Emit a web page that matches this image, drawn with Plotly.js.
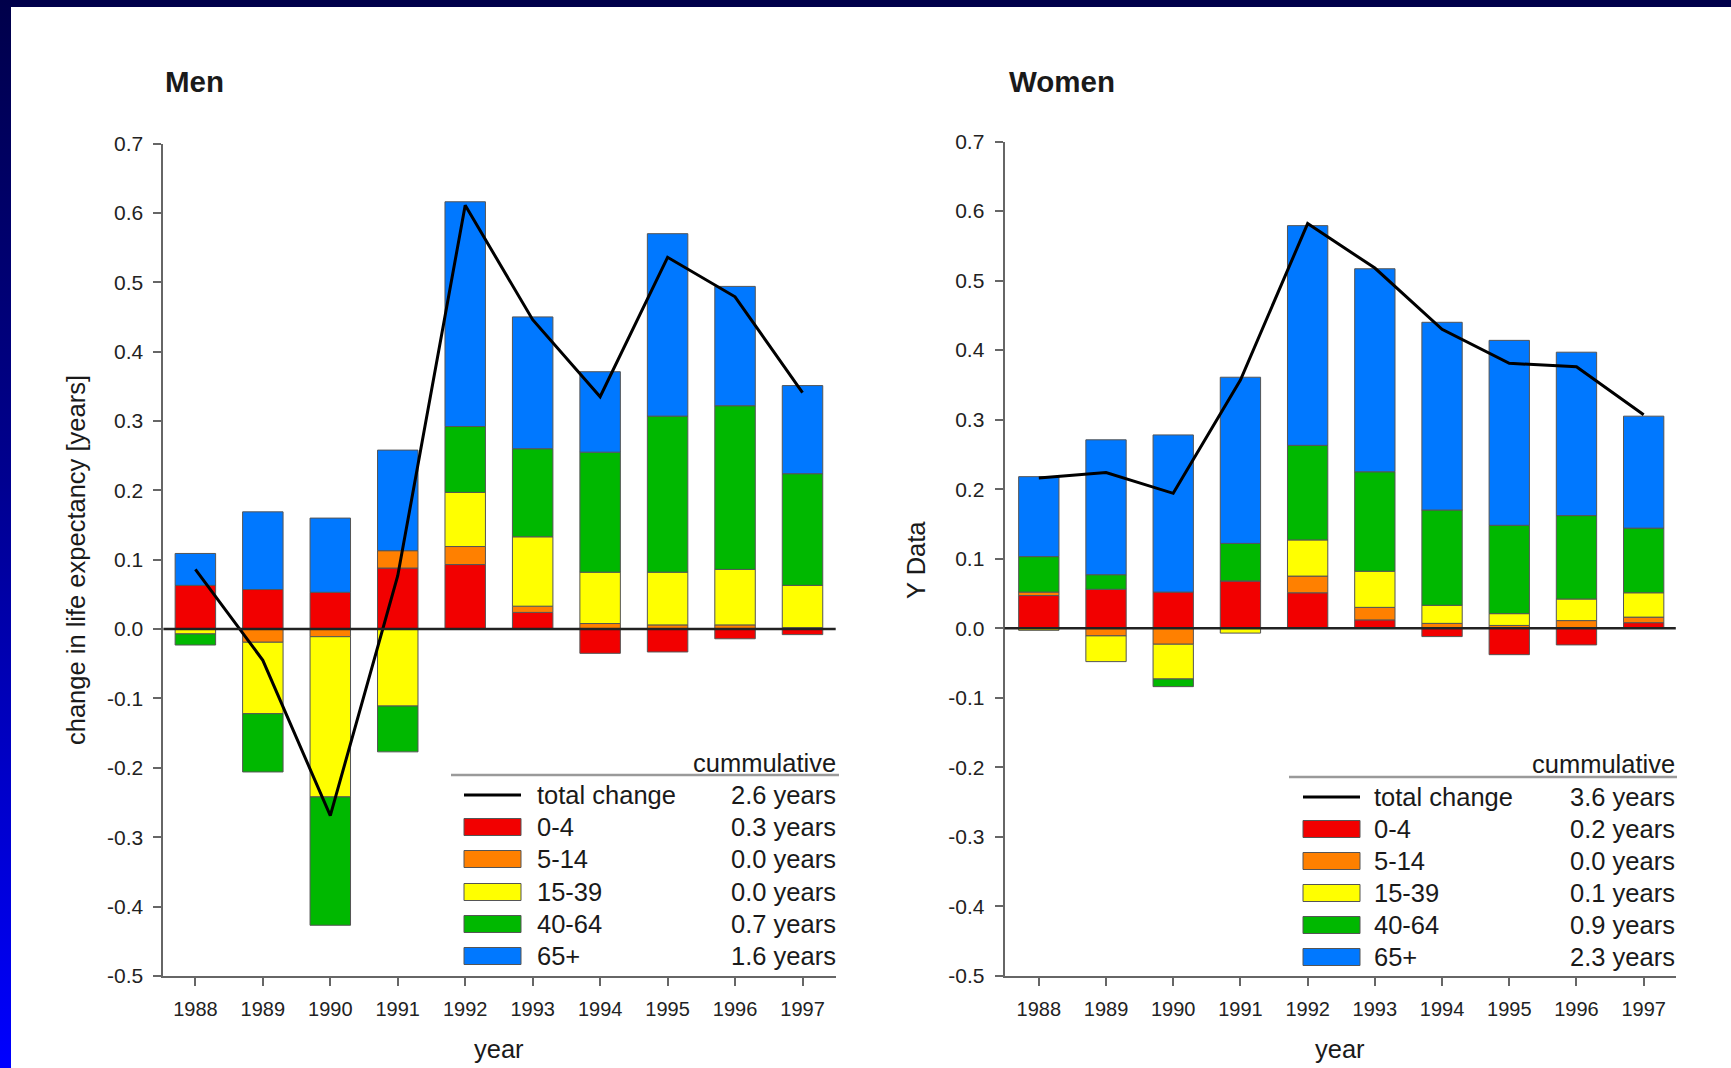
<!DOCTYPE html>
<html>
<head>
<meta charset="utf-8">
<script src="https://cdn.plot.ly/plotly-3.0.1.min.js"></script>
<style>
  html, body { margin: 0; padding: 0; }
  body { width: 1731px; height: 1068px; overflow: hidden;
         background: linear-gradient(to bottom, #00004a 0%, #000090 45%, #0000ff 100%); }
  #chart { width: 1731px; height: 1068px; }
</style>
</head>
<body>
<div id="chart"></div>
<script>
// ---------------- DATA ----------------
const years = [1988, 1989, 1990, 1991, 1992, 1993, 1994, 1995, 1996, 1997];
const ageGroups = ['0-4', '5-14', '15-39', '40-64', '65+'];

const men0to4    = [0.063, 0.057, 0.053, 0.088, 0.093, 0.024, -0.035, -0.033, -0.014, -0.008];
const men5to14   = [0.000, -0.019, -0.011, 0.025, 0.026, 0.009, 0.008, 0.006, 0.006, 0.002];
const men15to39  = [-0.007, -0.103, -0.231, -0.111, 0.078, 0.100, 0.074, 0.076, 0.080, 0.061];
const men40to64  = [-0.016, -0.084, -0.185, -0.066, 0.095, 0.127, 0.173, 0.225, 0.236, 0.161];
const men65plus  = [0.046, 0.112, 0.107, 0.145, 0.324, 0.190, 0.116, 0.263, 0.172, 0.127];
const menTotal   = [0.086, -0.045, -0.269, 0.077, 0.611, 0.446, 0.335, 0.536, 0.479, 0.341];

const women0to4   = [0.047, 0.056, 0.052, 0.068, 0.051, 0.012, -0.012, -0.038, -0.024, 0.008];
const women5to14  = [0.005, -0.011, -0.023, 0.000, 0.024, 0.018, 0.007, 0.004, 0.011, 0.008];
const women15to39 = [-0.003, -0.037, -0.050, -0.007, 0.052, 0.052, 0.026, 0.017, 0.031, 0.035];
const women40to64 = [0.051, 0.021, -0.011, 0.054, 0.136, 0.143, 0.137, 0.127, 0.120, 0.093];
const women65plus = [0.115, 0.194, 0.226, 0.239, 0.316, 0.292, 0.270, 0.266, 0.235, 0.161];
const womenTotal  = [0.216, 0.224, 0.194, 0.357, 0.582, 0.518, 0.430, 0.381, 0.376, 0.307];

const legendLabels = ['total change', '0-4', '5-14', '15-39', '40-64', '65+'];
const menCumulative   = ['2.6 years', '0.3 years', '0.0 years', '0.0 years', '0.7 years', '1.6 years'];
const womenCumulative = ['3.6 years', '0.2 years', '0.0 years', '0.1 years', '0.9 years', '2.3 years'];

const yTickVals = [-0.5, -0.4, -0.3, -0.2, -0.1, 0.0, 0.1, 0.2, 0.3, 0.4, 0.5, 0.6, 0.7];
const yTickText = ['-0.5', '-0.4', '-0.3', '-0.2', '-0.1', '0.0', '0.1', '0.2', '0.3', '0.4', '0.5', '0.6', '0.7'];

// ---------------- STYLE ----------------
const W = 1731, H = 1068;
const colors = ['#f20000', '#ff8000', '#ffff00', '#00b800', '#0078ff'];
const FONT = 'Liberation Sans, Arial, sans-serif';
const TXT = 25.5;
const px = x => x / W;
const py = y => 1 - y / H;

const menSeries = [men0to4, men5to14, men15to39, men40to64, men65plus];
const womenSeries = [women0to4, women5to14, women15to39, women40to64, women65plus];

const traces = [];
function addPanel(series, total, xa, ya) {
  series.forEach((vals, i) => {
    traces.push({
      type: 'bar', x: years, y: vals, name: ageGroups[i],
      xaxis: xa, yaxis: ya, width: 0.6,
      marker: { color: colors[i], line: { color: '#555', width: 1 } },
      showlegend: false, hoverinfo: 'x+y+name'
    });
  });
  traces.push({
    type: 'scatter', mode: 'lines', x: years, y: total, name: 'total change',
    xaxis: xa, yaxis: ya, line: { color: '#000', width: 3 }, showlegend: false
  });
}
addPanel(menSeries, menTotal, 'x', 'y');
addPanel(womenSeries, womenTotal, 'x2', 'y2');

function xAxis(d0, d1, r0, r1, anchor) {
  return {
    domain: [px(d0), px(d1)], range: [r0, r1], anchor: anchor,
    tickvals: years, ticktext: years.map(String),
    ticks: 'outside', ticklen: 8, tickwidth: 2, tickcolor: '#666',
    showline: true, linecolor: '#666', linewidth: 2,
    showgrid: false, zeroline: false, ticklabelstandoff: 6,
    tickfont: { family: FONT, size: 20, color: '#222' }, fixedrange: true
  };
}
function yAxis(t, b, anchor) {
  return {
    domain: [py(b), py(t)], range: [-0.5, 0.7], anchor: anchor,
    tickvals: yTickVals, ticktext: yTickText,
    ticks: 'outside', ticklen: 8, tickwidth: 2, tickcolor: '#666',
    showline: true, linecolor: '#666', linewidth: 2,
    showgrid: false, zeroline: false, ticklabelstandoff: 6,
    tickfont: { family: FONT, size: 21, color: '#222' }, fixedrange: true
  };
}

const shapes = [
  { type: 'rect', xref: 'paper', yref: 'paper', x0: px(11), x1: 1, y0: 0, y1: py(7),
    fillcolor: '#ffffff', line: { width: 0 }, layer: 'below' },
  { type: 'line', xref: 'x domain', yref: 'y', x0: 0, x1: 1, y0: 0, y1: 0,
    line: { color: '#222', width: 2.5 } },
  { type: 'line', xref: 'x2 domain', yref: 'y2', x0: 0, x1: 1, y0: 0, y1: 0,
    line: { color: '#222', width: 2.5 } }
];
const annotations = [];
function txt(text, x, y, xanchor, size, opts) {
  annotations.push(Object.assign({
    text: text, xref: 'paper', yref: 'paper', x: px(x), y: py(y),
    xanchor: xanchor, yanchor: 'middle', showarrow: false,
    font: { family: FONT, size: size, color: '#1a1a1a' }
  }, opts || {}));
}

function legendTable(lx0, lx1, headerY, lineY, rowYs, sw0, sw1, labelX, valueX, values) {
  txt('cummulative', valueX, headerY, 'right', TXT);
  shapes.push({ type: 'line', xref: 'paper', yref: 'paper', x0: px(lx0), x1: px(lx1),
    y0: py(lineY), y1: py(lineY), line: { color: '#9a9a9a', width: 2.5 } });
  rowYs.forEach((ry, i) => {
    if (i === 0) {
      shapes.push({ type: 'line', xref: 'paper', yref: 'paper', x0: px(sw0), x1: px(sw1),
        y0: py(ry), y1: py(ry), line: { color: '#000', width: 3 } });
    } else {
      shapes.push({ type: 'rect', xref: 'paper', yref: 'paper', x0: px(sw0), x1: px(sw1),
        y0: py(ry + 8.5), y1: py(ry - 8.5), fillcolor: colors[i - 1],
        line: { color: '#555', width: 1 } });
    }
    txt(legendLabels[i], labelX, ry, 'left', TXT);
    txt(values[i], valueX, ry, 'right', TXT);
  });
}
legendTable(451, 839, 763, 775, [795, 827, 859, 892, 924, 956], 464, 521, 535, 838, menCumulative);
legendTable(1289, 1677, 764, 777, [797, 829, 861, 893, 925, 957], 1303, 1360, 1372, 1677, womenCumulative);

// titles
txt('<b>Men</b>', 163, 82, 'left', 29.5);
txt('<b>Women</b>', 1007, 82, 'left', 29.5);
// axis titles
txt('year', 499, 1049, 'center', TXT);
txt('year', 1340, 1049, 'center', TXT);
txt('change in life expectancy [years]', 76, 560, 'center', TXT, { textangle: -90 });
txt('Y Data', 916, 560, 'center', TXT, { textangle: -90 });

const layout = {
  width: W, height: H,
  margin: { l: 0, r: 0, t: 0, b: 0, pad: 0 },
  paper_bgcolor: 'rgba(0,0,0,0)', plot_bgcolor: 'rgba(0,0,0,0)',
  barmode: 'relative', showlegend: false,
  xaxis: xAxis(163.4, 835.7, 1987.526, 1997.492, 'y'),
  yaxis: yAxis(143.5, 975.9, 'x'),
  xaxis2: xAxis(1004.6, 1675.8, 1987.491, 1997.478, 'y2'),
  yaxis2: yAxis(141.5, 975.9, 'x2'),
  shapes: shapes, annotations: annotations,
  font: { family: FONT }
};

Plotly.newPlot('chart', traces, layout, { displayModeBar: false, staticPlot: true });
</script>
</body>
</html>
